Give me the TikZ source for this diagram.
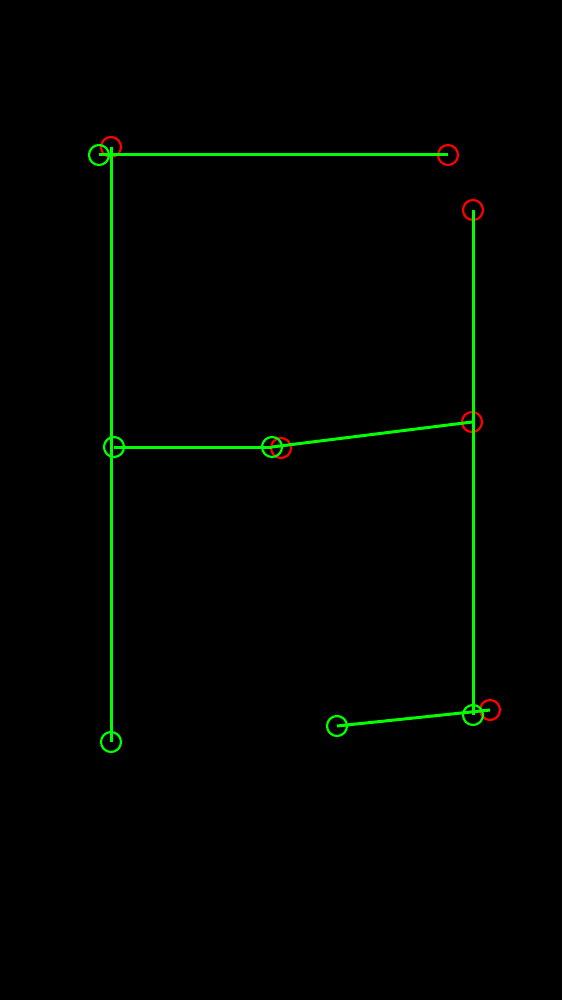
\documentclass[tikz,border=0pt]{standalone}
\usepackage{xcolor}
\usetikzlibrary{positioning}
\definecolor{trackgreen}{HTML}{00FF00}
\definecolor{hitred}{HTML}{FF0000}

\begin{document}
\begin{tikzpicture}[x=1pt, y=-1pt,
          seg/.style={draw=trackgreen, line width=3pt},
          hitmark/.style={circle, line width=2.2pt, minimum size=20pt,
                       inner sep=0pt},
          gmark/.style={hitmark, draw=trackgreen},
          rmark/.style={hitmark, draw=hitred},
        ]
        \fill[black] (0,0) rectangle (562,1000);
        \useasboundingbox (0,0) rectangle (562,1000);
        % red hits
        \node[rmark] (rtopleft)  at (111,147) {};
        \node[rmark] (rtopright) at (448,155) {};
        \node[rmark] (rright)    at (473,210) {};
        \node[rmark] (rmid)      at (281,448) {};
        \node[rmark] (rjoin)     at (472,422) {};
        \node[rmark] (rend)      at (490,710) {};
        % green hits
        \node[gmark] (gtop)      at (99,155) {};
        \node[gmark] (gleft)     at (114,447) {};
        \node[gmark] (gmid)      at (272,447) {};
        \node[gmark] (gbottom)   at (111,742) {};
        \node[gmark] (gright)    at (473,715) {};
        \node[gmark] (gstart)    at (337,726) {};
        % tracks
        \draw[seg] (gtop.center) -- (rtopright.center);
        \draw[seg] (rtopleft.center) -- (gbottom.center);
        \draw[seg] (gleft.center) -- (gmid.center);
        \draw[seg] (gmid.center) -- (rjoin.center);
        \draw[seg] (rright.center) -- (gright.center);
        \draw[seg] (gstart.center) -- (rend.center);
      \end{tikzpicture}
\end{document}
